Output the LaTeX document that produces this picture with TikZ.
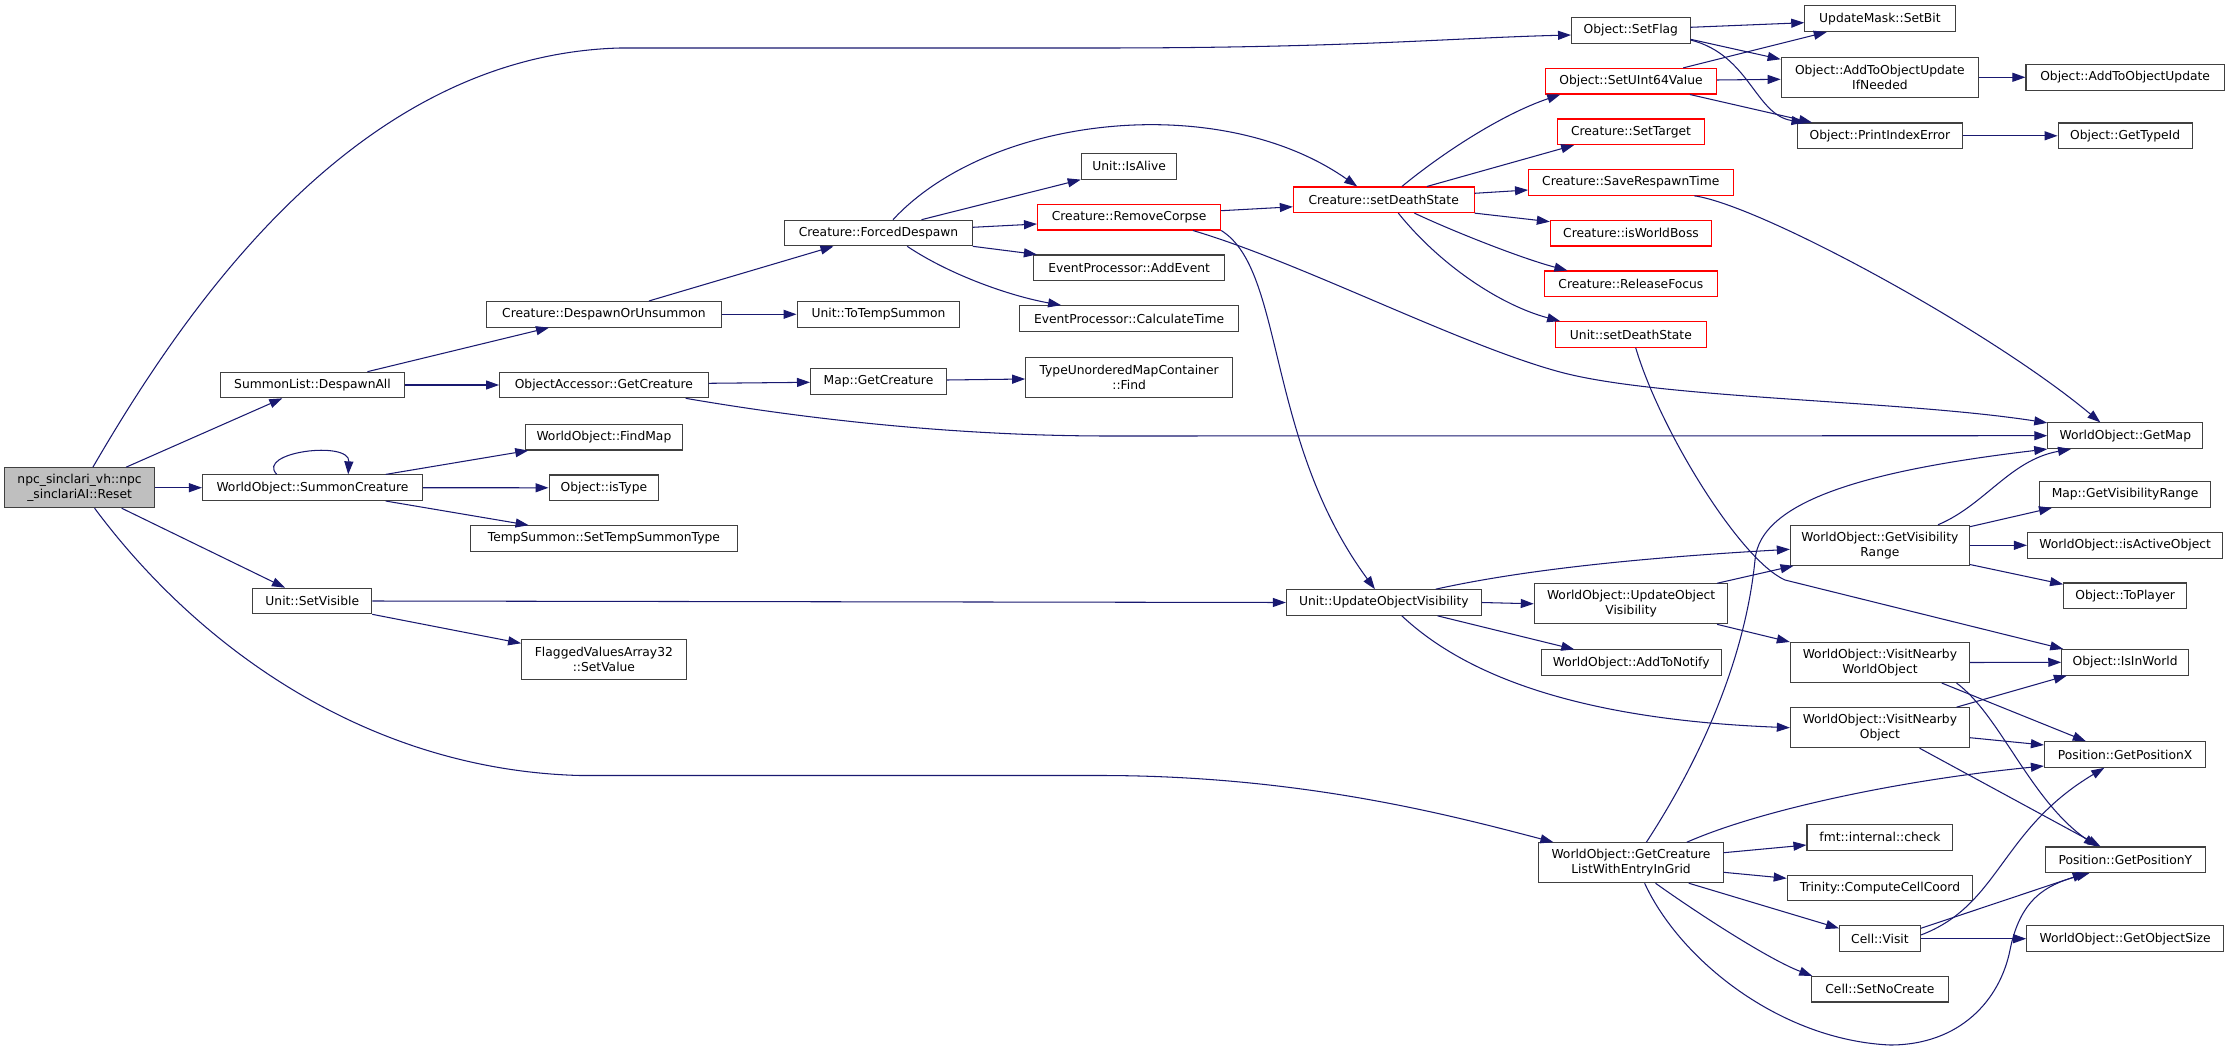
\documentclass[tikz,border=0pt]{standalone}
\usepackage{fontspec}
\setmainfont{DejaVu Sans}
\usetikzlibrary{arrows.meta}
\definecolor{edgecol}{RGB}{25,25,112}
\definecolor{bordercol}{RGB}{64,64,64}
\definecolor{rootfill}{RGB}{191,191,191}
\tikzset{
  box/.style={draw=bordercol, line width=1.05pt, fill=white, inner sep=0pt,
    minimum height=25.6pt, align=center, text=black,
    font=\fontsize{12.3}{15}\selectfont},
  redbox/.style={box, draw=red},
  rootbox/.style={box, fill=rootfill},
  twol/.style={minimum height=40pt},
  e/.style={draw=edgecol, line width=1.05pt, -{Triangle[length=13pt,width=9pt]}},
}
\begin{document}
\begin{tikzpicture}[x=1pt,y=-1pt]
\useasboundingbox[fill=white] (0,0) rectangle (2229,1051);
% column 1
\node[rootbox, twol, minimum width=150pt] (reset) at (79.6,487.7) {npc\_sinclari\_vh::npc\\\_sinclariAI::Reset};
% column 2
\node[box, minimum width=184.3pt] (despawnall) at (312.5,385) {SummonList::DespawnAll};
\node[box, minimum width=220pt] (summoncr) at (312.5,487.7) {WorldObject::SummonCreature};
\node[box, minimum width=118.9pt] (setvisible) at (312.3,601) {Unit::SetVisible};
% column 3
\node[box, minimum width=235pt] (despunsum) at (603.9,314.3) {Creature::DespawnOrUnsummon};
\node[box, minimum width=208.6pt] (objacc) at (603.9,385) {ObjectAccessor::GetCreature};
\node[box, minimum width=157.5pt] (findmap) at (603.9,437.2) {WorldObject::FindMap};
\node[box, minimum width=109.7pt] (istype) at (603.9,487.8) {Object::isType};
\node[box, minimum width=266.4pt] (settemp) at (603.9,538.5) {TempSummon::SetTempSummonType};
\node[box, twol, minimum width=164.6pt] (flagged) at (603.9,659.8) {FlaggedValuesArray32\\::SetValue};
% column 4
\node[box, minimum width=187.5pt] (forced) at (878.5,233) {Creature::ForcedDespawn};
\node[box, minimum width=162.9pt] (totemp) at (878.5,314.3) {Unit::ToTempSummon};
\node[box, minimum width=136pt] (mapgetcr) at (878.5,381.3) {Map::GetCreature};
% column 5
\node[box, minimum width=95.7pt] (isalive) at (1129.1,166.3) {Unit::IsAlive};
\node[redbox, minimum width=183.2pt] (removecorpse) at (1129.1,217.2) {Creature::RemoveCorpse};
\node[box, minimum width=191.4pt] (addevent) at (1129.1,267.8) {EventProcessor::AddEvent};
\node[box, minimum width=219.3pt] (calctime) at (1129.1,318.5) {EventProcessor::CalculateTime};
\node[box, twol, minimum width=206.8pt] (find) at (1129.1,377.3) {TypeUnorderedMapContainer\\::Find};
% column 6
\node[redbox, minimum width=180.7pt] (setdeath) at (1383.7,199.8) {Creature::setDeathState};
\node[box, minimum width=195pt] (updobjvis) at (1383.9,602.5) {Unit::UpdateObjectVisibility};
% column 7
\node[box, minimum width=118.5pt] (setflag) at (1630.8,30.5) {Object::SetFlag};
\node[redbox, minimum width=171pt] (setuint64) at (1631,81.2) {Object::SetUInt64Value};
\node[redbox, minimum width=146.7pt] (settarget) at (1631,131.8) {Creature::SetTarget};
\node[redbox, minimum width=204.5pt] (saveresp) at (1630.8,182.5) {Creature::SaveRespawnTime};
\node[redbox, minimum width=161.3pt] (isworldboss) at (1631,233.2) {Creature::isWorldBoss};
\node[redbox, minimum width=172.6pt] (releasefocus) at (1630.9,283.8) {Creature::ReleaseFocus};
\node[redbox, minimum width=151.1pt] (unitsetdeath) at (1630.9,334.5) {Unit::setDeathState};
\node[box, twol, minimum width=193.6pt] (woupdvis) at (1631.1,603.8) {WorldObject::UpdateObject\\Visibility};
\node[box, minimum width=179.9pt] (addtonotify) at (1631.2,662.7) {WorldObject::AddToNotify};
\node[box, twol, minimum width=184.2pt] (getcrlist) at (1631,862.7) {WorldObject::GetCreature\\ListWithEntryInGrid};
% column 8
\node[box, minimum width=150.3pt] (setbit) at (1879.9,18.7) {UpdateMask::SetBit};
\node[box, twol, minimum width=197.5pt] (addifneeded) at (1879.9,77.3) {Object::AddToObjectUpdate\\IfNeeded};
\node[box, minimum width=165.8pt] (printidx) at (1879.9,135.8) {Object::PrintIndexError};
\node[box, twol, minimum width=179.1pt] (getvisrange) at (1879.9,545.3) {WorldObject::GetVisibility\\Range};
\node[box, twol, minimum width=179.1pt] (visitnearbywo) at (1879.9,662.5) {WorldObject::VisitNearby\\WorldObject};
\node[box, twol, minimum width=179.1pt] (visitnearbyobj) at (1879.9,727.7) {WorldObject::VisitNearby\\Object};
\node[box, minimum width=145.9pt] (fmtcheck) at (1879.9,837.3) {fmt::internal::check};
\node[box, minimum width=185.4pt] (computecell) at (1879.9,888) {Trinity::ComputeCellCoord};
\node[box, minimum width=80.9pt] (cellvisit) at (1879.9,938.7) {Cell::Visit};
\node[box, minimum width=136.3pt] (setnocreate) at (1879.9,989.2) {Cell::SetNoCreate};
% column 9
\node[box, minimum width=198.3pt] (addtoobjupd) at (2125.1,77.3) {Object::AddToObjectUpdate};
\node[box, minimum width=134pt] (gettypeid) at (2125.1,135.8) {Object::GetTypeId};
\node[box, minimum width=155.1pt] (getmap) at (2125.3,435.7) {WorldObject::GetMap};
\node[box, minimum width=171pt] (mapgetvis) at (2125.1,494.5) {Map::GetVisibilityRange};
\node[box, minimum width=195.3pt] (isactive) at (2125.1,545.3) {WorldObject::isActiveObject};
\node[box, minimum width=123pt] (toplayer) at (2125.1,595.8) {Object::ToPlayer};
\node[box, minimum width=126.7pt] (isinworld) at (2125.1,662.3) {Object::IsInWorld};
\node[box, minimum width=161.4pt] (getposx) at (2125.1,754.5) {Position::GetPositionX};
\node[box, minimum width=160.3pt] (getposy) at (2125.3,859.8) {Position::GetPositionY};
\node[box, minimum width=196.8pt] (getobjsize) at (2125.1,938.7) {WorldObject::GetObjectSize};

% edges from Reset
\draw[e] ([xshift=13.3pt]reset.north) .. controls (190,300) and (360,55) .. (620,48) -- (1100,48) .. controls (1350,48) and (1450,38) .. ([yshift=-4.5pt]setflag.west);
\draw[e] (reset) -- (despawnall);
\draw[e] (reset) -- (summoncr);
\draw[e] (reset) -- (setvisible);
\draw[e] ([xshift=15pt]reset.south) .. controls (200,650) and (370,770) .. (580,775.5) -- (1100,775.5) .. controls (1300,775.5) and (1450,815) .. ([xshift=15pt]getcrlist.north west);
% DespawnAll
\draw[e] (despawnall) -- (despunsum);
\draw[e] (despawnall) -- (objacc);
\draw[e] (despunsum) -- (forced);
\draw[e] (despunsum) -- (totemp);
% ForcedDespawn
\draw[e] ([xshift=14.5pt]forced.north) .. controls (990,115) and (1220,90) .. ([xshift=-26.5pt]setdeath.north);
\draw[e] ([xshift=43pt]forced.north) -- (isalive.south west);
\draw[e] ([yshift=5.7pt]forced.east) -- ([yshift=-6.8pt]removecorpse.west);
\draw[e] (forced.south east) -- ([xshift=4pt]addevent.north west);
\draw[e] ([xshift=28.7pt]forced.south) .. controls (950,275) and (1010,296) .. ([xshift=-68pt]calctime.north);
% RemoveCorpse
\draw[e] ([yshift=6.5pt]removecorpse.east) -- ([yshift=-7pt]setdeath.west);
\draw[e] (removecorpse.south east) .. controls (1285,270) and (1265,440) .. ([xshift=-9pt]updobjvis.north);
\draw[e] ([xshift=63.8pt]removecorpse.south) .. controls (1300,262) and (1460,345) .. (1560,372) .. controls (1660,399) and (1900,400) .. ([yshift=-0.5pt]getmap.north west);
% Creature::setDeathState
\draw[e] ([xshift=18.2pt]setdeath.north) .. controls (1440,155) and (1500,115) .. ([xshift=15.3pt]setuint64.south west);
\draw[e] ([xshift=43.2pt]setdeath.north) -- ([xshift=17pt]settarget.south west);
\draw[e] ([yshift=6.5pt]setdeath.east) -- ([yshift=-7.5pt]saveresp.west);
\draw[e] (setdeath.south east) -- ([yshift=11.5pt]isworldboss.west);
\draw[e] ([xshift=30.7pt]setdeath.south) .. controls (1450,230) and (1520,258) .. ([xshift=23.3pt]releasefocus.north west);
\draw[e] ([xshift=14.6pt]setdeath.south) .. controls (1440,265) and (1500,305) .. ([xshift=5.3pt]unitsetdeath.north west);
% SetFlag / SetUInt64Value
\draw[e] ([yshift=3.2pt]setflag.east) -- ([yshift=-4pt]setbit.west);
\draw[e] ([yshift=-8.8pt]setflag.east) -- ([yshift=18pt]addifneeded.west);
\draw[e] ([yshift=-9.5pt]setflag.east) .. controls (1750,55) and (1755,115) .. ([xshift=8pt]printidx.north west);
\draw[e] ([xshift=52.2pt]setuint64.north) -- ([xshift=22.5pt]setbit.south west);
\draw[e] ([yshift=1.2pt]setuint64.east) -- ([yshift=-2pt]addifneeded.west);
\draw[e] ([xshift=58.9pt]setuint64.south) -- ([xshift=15.5pt]printidx.north west);
\draw[e] (addifneeded) -- (addtoobjupd);
\draw[e] (printidx) -- (gettypeid);
\draw[e] ([xshift=63.5pt]saveresp.south) .. controls (1760,205) and (1990,330) .. ([xshift=-25pt]getmap.north);
\draw[e] ([xshift=4.8pt]unitsetdeath.south) .. controls (1660,430) and (1740,560) .. (1785,580) -- ([xshift=2pt]isinworld.north west);
% ObjectAccessor
\draw[e] ([xshift=81.8pt]objacc.south) .. controls (800,418) and (950,436) .. (1110,436) -- (getmap.west);
\draw[e] ([yshift=1.7pt]objacc.east) -- ([yshift=-1pt]mapgetcr.west);
\draw[e] ([yshift=1.3pt]mapgetcr.east) -- ([yshift=-1.7pt]find.west);
% SummonCreature
\draw[e] ([xshift=-35.7pt]summoncr.north) .. controls (255,452) and (350,440) .. ([xshift=35.7pt]summoncr.north);
\draw[e] ([xshift=73.2pt]summoncr.north) -- ([xshift=3.6pt]findmap.south west);
\draw[e] (summoncr) -- (istype);
\draw[e] ([xshift=73.2pt]summoncr.south) -- ([xshift=-75.3pt]settemp.north);
% SetVisible
\draw[e] (setvisible.east) -- (updobjvis.west);
\draw[e] (setvisible.south east) -- ([yshift=16.5pt]flagged.west);
% Unit::UpdateObjectVisibility
\draw[e] ([xshift=51.8pt]updobjvis.north) .. controls (1500,575) and (1600,560) .. ([yshift=-4pt]getvisrange.west);
\draw[e] (updobjvis.east) -- (woupdvis.west);
\draw[e] ([xshift=53.6pt]updobjvis.south) -- ([xshift=33.6pt]addtonotify.north west);
\draw[e] ([xshift=17.9pt]updobjvis.south) .. controls (1470,680) and (1590,720) .. (visitnearbyobj.west);
\draw[e] ([xshift=-11.4pt]woupdvis.north east) -- ([xshift=3.7pt]getvisrange.south west);
\draw[e] ([xshift=-11.4pt]woupdvis.south east) -- (visitnearbywo.north west);
% GetVisibilityRange
\draw[e] ([xshift=58.1pt]getvisrange.north) .. controls (1985,505) and (2010,460) .. ([xshift=-54.3pt]getmap.south);
\draw[e] ([yshift=18.6pt]getvisrange.east) -- ([xshift=12.9pt]mapgetvis.south west);
\draw[e] (getvisrange.east) -- (isactive.west);
\draw[e] ([yshift=1.3pt]getvisrange.south east) -- ([yshift=11.5pt]toplayer.west);
% VisitNearby
\draw[e] (visitnearbywo.east) -- (isinworld.west);
\draw[e] ([xshift=61.8pt]visitnearbywo.south) -- ([xshift=-39.3pt]getposx.north);
\draw[e] ([xshift=76.6pt]visitnearbywo.south) .. controls (2000,715) and (2030,800) .. ([xshift=-28.5pt]getposy.north);
\draw[e] ([xshift=76.6pt]visitnearbyobj.north) -- ([xshift=5.6pt]isinworld.south west);
\draw[e] ([yshift=-10pt]visitnearbyobj.east) -- ([yshift=9.5pt]getposx.west);
\draw[e] ([xshift=39.7pt]visitnearbyobj.south) -- ([xshift=-24.8pt]getposy.north);
% GetCreatureListWithEntryInGrid
\draw[e] ([xshift=15.4pt]getcrlist.north) .. controls (1700,760) and (1745,660) .. (1755,560) .. controls (1760,500) and (1870,470) .. (getmap.south west);
\draw[e] ([xshift=55.9pt]getcrlist.north) .. controls (1760,810) and (1900,780) .. ([yshift=-11.5pt]getposx.west);
\draw[e] ([yshift=10pt]getcrlist.east) -- ([yshift=-7.7pt]fmtcheck.west);
\draw[e] ([yshift=-9.6pt]getcrlist.east) -- ([yshift=9.7pt]computecell.west);
\draw[e] ([xshift=57.8pt]getcrlist.south) -- ([yshift=10.4pt]cellvisit.west);
\draw[e] ([xshift=24.5pt]getcrlist.south) .. controls (1700,915) and (1770,960) .. ([xshift=1pt]setnocreate.north west);
\draw[e] ([xshift=13.6pt]getcrlist.south) .. controls (1680,960) and (1780,1040) .. (1890,1045) .. controls (1960,1045) and (2000,1000) .. (2010,950) .. controls (2020,900) and (2045,885) .. ([xshift=-35.9pt]getposy.south);
% Cell::Visit
\draw[e] ([yshift=3.7pt]cellvisit.east) .. controls (2000,905) and (2000,830) .. ([xshift=-20.8pt]getposx.south);
\draw[e] ([yshift=10.4pt]cellvisit.east) -- ([xshift=-39.6pt]getposy.south);
\draw[e] (cellvisit.east) -- (getobjsize.west);
\end{tikzpicture}
\end{document}
